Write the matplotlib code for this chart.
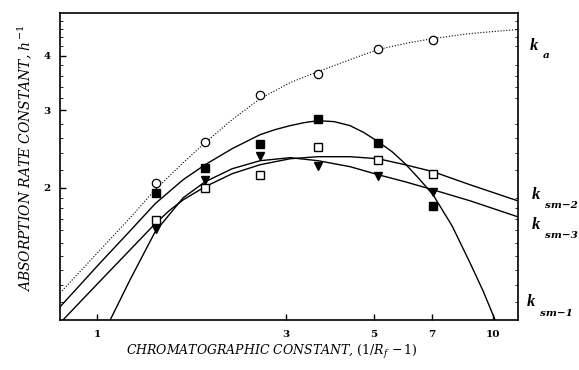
import matplotlib
matplotlib.use('Agg')
import matplotlib.pyplot as plt
from matplotlib.ticker import FixedLocator, NullFormatter


x_obs = [1.41, 1.87, 2.58, 3.62, 5.12, 7.05]
ka_obs = [2.05, 2.54, 3.25, 3.64, 4.14, 4.35]
ksm1_obs = [1.95, 2.22, 2.52, 2.87, 2.53, 1.82]
ksm2_obs = [1.69, 2.00, 2.14, 2.48, 2.31, 2.15]
ksm3_obs = [1.61, 2.08, 2.36, 2.24, 2.13, 1.96]

# fitted curves
ka_fit_x = [0.806, 1.018, 1.211, 1.401, 1.649, 1.874, 2.193, 2.580, 3.072, 3.615, 4.354, 5.124, 5.997, 7.055, 8.748, 11.54]
ka_fit_y = [1.152, 1.444, 1.708, 1.979, 2.280, 2.533, 2.858, 3.190, 3.471, 3.678, 3.917, 4.128, 4.261, 4.374, 4.490, 4.586]

ksm1_fit_x = [0.806, 1.018, 1.211, 1.401, 1.649, 1.874, 2.193, 2.580, 2.816, 3.072, 3.332, 3.615,
              3.967, 4.354, 4.724, 5.124, 5.560, 5.997, 6.504, 7.055, 7.879, 8.748, 9.435, 10.12]
ksm1_fit_y = [1.071, 1.349, 1.595, 1.839, 2.086, 2.257, 2.455, 2.642, 2.713, 2.770, 2.814, 2.843,
              2.829, 2.770, 2.670, 2.547, 2.416, 2.269, 2.097, 1.928, 1.638, 1.349, 1.165, 1.000]

ksm2_fit_x = [0.806, 1.018, 1.211, 1.401, 1.520, 1.649, 1.874, 2.193, 2.580, 3.072, 3.615, 4.354, 5.124, 5.997, 7.055, 8.748, 11.54]
ksm2_fit_y = [0.984, 1.227, 1.444, 1.656, 1.773, 1.877, 2.011, 2.153, 2.257, 2.329, 2.354, 2.354, 2.329, 2.257, 2.176, 2.032, 1.868]

ksm3_fit_x = [1.079, 1.211, 1.401, 1.649, 1.874, 2.193, 2.580, 3.072, 3.615, 4.354, 5.124, 5.997, 7.055, 8.748, 11.54]
ksm3_fit_y = [1.000, 1.234, 1.587, 1.897, 2.064, 2.210, 2.305, 2.342, 2.305, 2.234, 2.142, 2.064, 1.979, 1.868, 1.718]

x_ticks = [1, 3, 5, 7, 10]
y_ticks = [2, 3, 4]
y_minor = [1.1, 1.2, 1.3, 1.4, 1.5, 1.6, 1.7, 1.8, 1.9, 2.2, 2.4, 2.6, 2.8,
           3.2, 3.4, 3.6, 3.8, 4.2, 4.4, 4.6, 4.8]

W, H = 579, 370


def put_k(fig, sub, xk, yk, xs, ys):
    # k label with subscript, positions in figure pixels
    fig.text(xk / W, 1 - yk / H, 'k', fontsize=12, fontstyle='italic', fontweight='bold',
             family=['Liberation Serif', 'DejaVu Serif'], ha='left', va='center')
    fig.text(xs / W, 1 - ys / H, sub, fontsize=7.5, fontstyle='italic', fontweight='bold',
             family=['DejaVu Serif'], ha='left', va='center')


def main():
    plt.rcParams['mathtext.fontset'] = 'dejavuserif'
    fig = plt.figure(figsize=(W / 100, H / 100), dpi=100)
    ax = fig.add_axes([60 / W, 50 / H, 457.7 / W, 307 / H])
    ax.set_xscale('log')
    ax.set_yscale('log')

    # fitted lines
    ax.plot(ka_fit_x, ka_fit_y, color='black', lw=0.8, ls=(0, (1, 1.6)))
    ax.plot(ksm1_fit_x, ksm1_fit_y, color='black', lw=1.0)
    ax.plot(ksm2_fit_x, ksm2_fit_y, color='black', lw=1.0)
    ax.plot(ksm3_fit_x, ksm3_fit_y, color='black', lw=1.0)

    # points
    ax.plot(x_obs, ka_obs, 'o', ms=6, mfc='white', mec='black', mew=0.9, ls='none')
    ax.plot(x_obs, ksm1_obs, 's', ms=5.5, mfc='black', mec='black', ls='none')
    ax.plot(x_obs, ksm2_obs, 's', ms=5.2, mfc='white', mec='black', mew=1.0, ls='none')
    ax.plot(x_obs, ksm3_obs, 'v', ms=6, mfc='black', mec='black', ls='none')

    ax.set_xlim(0.806, 11.54)
    ax.set_ylim(1.0, 5.0)

    ax.xaxis.set_major_locator(FixedLocator(x_ticks))
    ax.xaxis.set_minor_locator(FixedLocator([]))
    ax.set_xticklabels([str(t) for t in x_ticks])
    ax.yaxis.set_major_locator(FixedLocator(y_ticks))
    ax.yaxis.set_minor_locator(FixedLocator(y_minor))
    ax.yaxis.set_minor_formatter(NullFormatter())
    ax.set_yticklabels([str(t) for t in y_ticks])

    ax.tick_params(axis='both', which='major', direction='in', length=4, width=1.0,
                   pad=7, labelsize=7.5)
    ax.tick_params(axis='y', which='minor', direction='in', length=2, width=0.6,
                   left=True, right=True)
    for lab in ax.get_xticklabels() + ax.get_yticklabels():
        lab.set_fontfamily('DejaVu Serif')
        lab.set_fontweight('bold')

    for sp in ax.spines.values():
        sp.set_linewidth(1.2)

    # axis titles placed by hand, as in the original
    fig.text(25 / W, 1 - 158 / H, r'ABSORPTION RATE CONSTANT, $\mathit{h}^{-1}$', fontsize=10,
             fontstyle='italic', family='DejaVu Serif', rotation=90, ha='center', va='center')
    fig.text(272 / W, 1 - 352 / H, r'CHROMATOGRAPHIC CONSTANT, $\mathit{(1/R_f\,-1)}$', fontsize=9,
             fontstyle='italic', family='DejaVu Serif', ha='center', va='center')

    put_k(fig, 'a', 530, 46, 543, 55)
    put_k(fig, 'sm\u22122', 532, 195, 545, 206)
    put_k(fig, 'sm\u22123', 532, 225, 545, 236)
    put_k(fig, 'sm\u22121', 527, 302, 540, 313)

    fig.savefig('out.png', dpi=100)


if __name__ == '__main__':
    main()
